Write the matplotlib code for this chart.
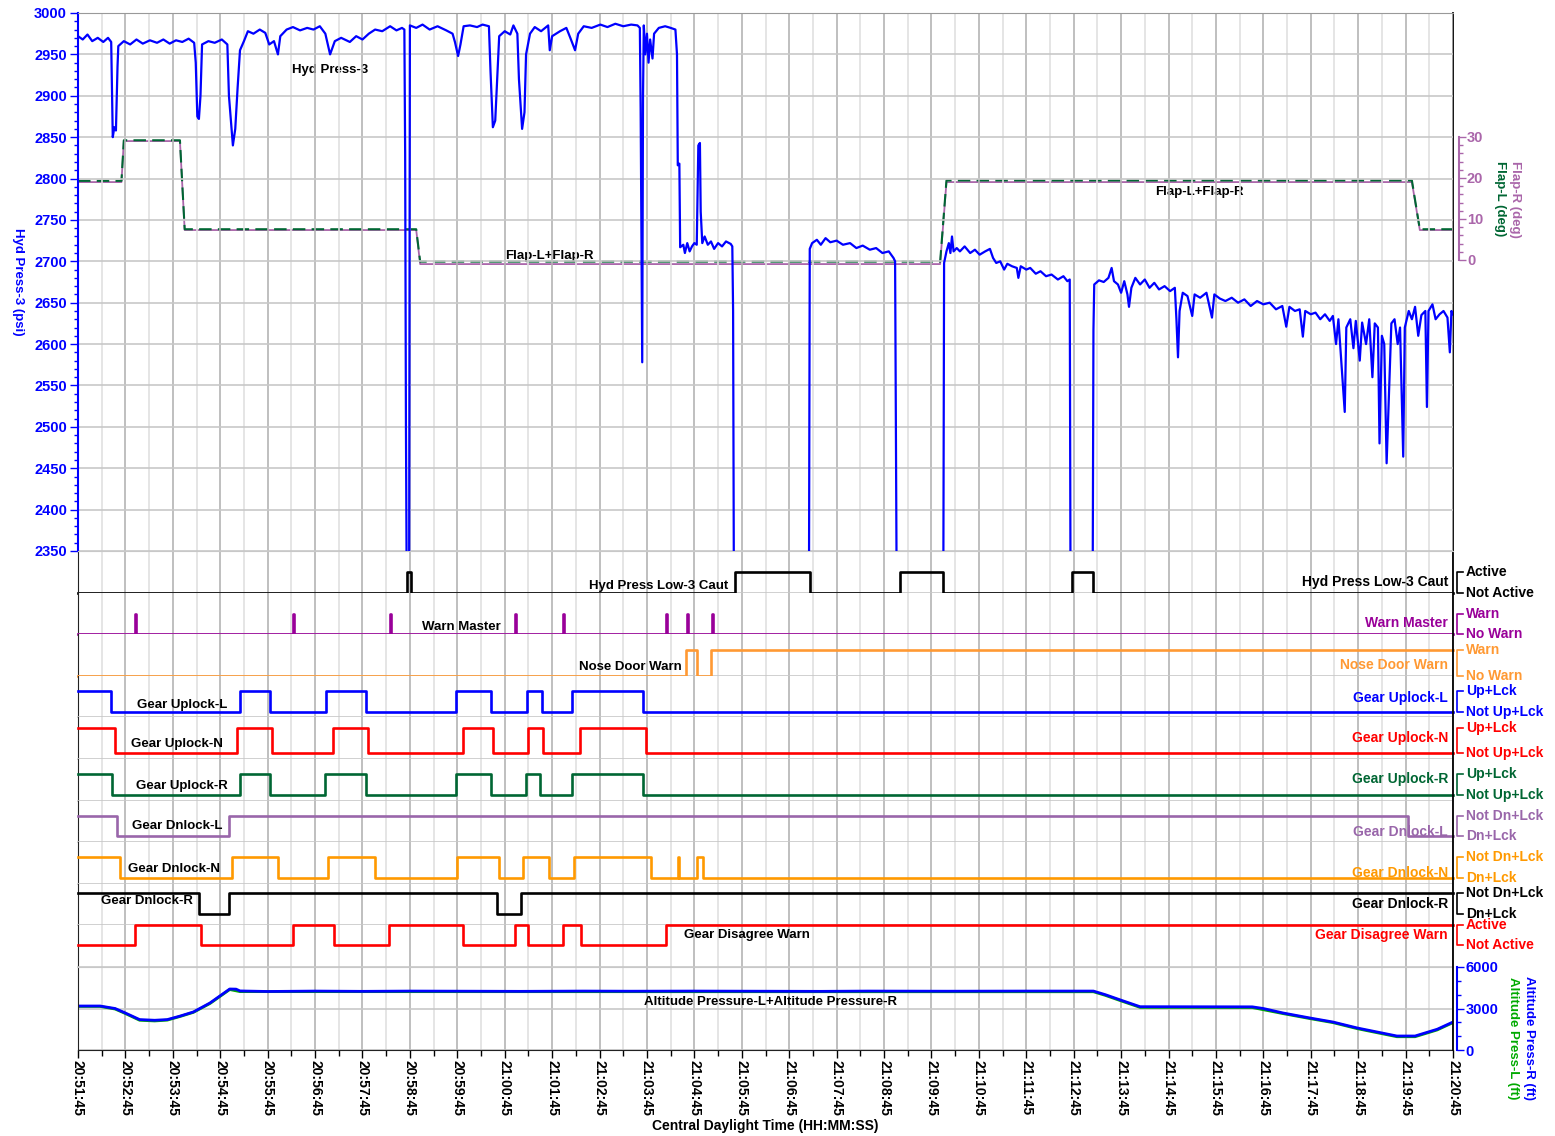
import numpy as np
import matplotlib
matplotlib.use("Agg")
import matplotlib.pyplot as plt
from matplotlib.ticker import MultipleLocator, FixedLocator, FuncFormatter

plt.rcParams['font.family'] = ['Liberation Sans', 'DejaVu Sans']
plt.rcParams['font.weight'] = 'bold'

W, H = 1555, 1136
T0 = 20 * 3600 + 51 * 60 + 45   # 20:51:45, x values are seconds after this
T_END = 1740

# Hyd Press-3 (psi): (seconds, psi); 2300 = off scale below 2350
hyd_press = [
    (0, 2972), (6, 2968), (12, 2974), (18, 2966), (25, 2970), (32, 2965), (38, 2970), (42, 2965),
    (44, 2850), (46, 2862), (48, 2858), (50, 2935), (51, 2960), (58, 2966), (66, 2962), (74, 2968),
    (82, 2963), (91, 2967), (100, 2964), (108, 2968), (116, 2963), (124, 2967), (132, 2965),
    (140, 2969), (147, 2964), (149, 2940), (151, 2875), (153, 2872), (155, 2900), (157, 2962),
    (165, 2966), (173, 2964), (182, 2968), (189, 2962), (191, 2900), (196, 2840), (199, 2860),
    (202, 2910), (205, 2955), (210, 2966), (215, 2978), (222, 2975), (230, 2980), (237, 2976),
    (242, 2962), (248, 2966), (253, 2950), (256, 2972), (264, 2980), (272, 2983), (281, 2979),
    (290, 2982), (298, 2980), (306, 2984), (313, 2975), (319, 2950), (325, 2966), (333, 2970),
    (344, 2965), (352, 2972), (360, 2968), (368, 2975), (376, 2980), (385, 2978), (395, 2984),
    (403, 2979), (410, 2982), (413, 2980), (414, 2830), (415, 2500), (416, 2300), (419, 2300),
    (420, 2985), (428, 2982), (436, 2986), (445, 2980), (455, 2984), (466, 2979), (474, 2975),
    (477, 2965), (481, 2948), (484, 2962), (488, 2984), (496, 2985), (505, 2983), (512, 2986),
    (520, 2984), (522, 2930), (525, 2862), (528, 2870), (531, 2930), (533, 2972), (540, 2978),
    (547, 2974), (551, 2985), (556, 2975), (558, 2920), (562, 2860), (565, 2880), (567, 2950),
    (572, 2975), (578, 2983), (586, 2978), (595, 2985), (597, 2955), (600, 2972), (610, 2978),
    (618, 2982), (623, 2970), (629, 2955), (633, 2975), (640, 2984), (650, 2982), (661, 2986),
    (670, 2983), (680, 2987), (690, 2984), (700, 2986), (708, 2985), (711, 2982), (712, 2885),
    (714, 2578), (715, 2900), (716, 2985), (718, 2950), (720, 2975), (722, 2940), (724, 2968),
    (727, 2945), (729, 2975), (735, 2982), (743, 2984), (750, 2982), (756, 2980), (758, 2950),
    (759, 2816), (761, 2818), (762, 2717), (766, 2720), (768, 2710), (771, 2722), (774, 2712),
    (777, 2718), (780, 2722), (783, 2720), (785, 2840), (787, 2843), (788, 2760), (790, 2722),
    (793, 2730), (797, 2720), (801, 2724), (805, 2715), (810, 2722), (815, 2718), (820, 2724),
    (826, 2721), (828, 2718), (829, 2640), (830, 2300), (925, 2300), (926, 2715), (929, 2722),
    (935, 2726), (940, 2720), (946, 2728), (952, 2723), (960, 2725), (968, 2720), (977, 2722),
    (985, 2716), (993, 2719), (1002, 2714), (1010, 2716), (1018, 2710), (1026, 2712), (1032, 2704),
    (1034, 2700), (1036, 2300), (1095, 2300), (1096, 2698), (1099, 2712), (1102, 2722), (1104, 2710),
    (1106, 2730), (1108, 2712), (1112, 2716), (1116, 2712), (1122, 2718), (1129, 2710), (1135, 2714),
    (1141, 2708), (1148, 2712), (1154, 2715), (1158, 2704), (1162, 2698), (1167, 2700), (1172, 2690),
    (1176, 2697), (1182, 2694), (1188, 2692), (1190, 2680), (1193, 2694), (1200, 2690), (1205, 2692),
    (1212, 2685), (1218, 2688), (1225, 2682), (1232, 2684), (1240, 2678), (1247, 2682), (1252, 2676),
    (1255, 2678), (1256, 2300), (1284, 2300), (1285, 2617), (1286, 2672), (1292, 2677), (1298, 2675),
    (1304, 2680), (1308, 2692), (1311, 2676), (1316, 2672), (1320, 2662), (1324, 2676), (1328, 2660),
    (1330, 2645), (1333, 2668), (1338, 2680), (1344, 2672), (1350, 2678), (1356, 2668), (1362, 2674),
    (1368, 2666), (1375, 2670), (1382, 2664), (1388, 2668), (1390, 2630), (1392, 2584), (1394, 2640),
    (1398, 2662), (1404, 2658), (1410, 2634), (1413, 2660), (1420, 2656), (1428, 2662), (1435, 2632),
    (1438, 2660), (1445, 2655), (1452, 2652), (1460, 2656), (1468, 2650), (1476, 2654), (1484, 2646),
    (1492, 2652), (1500, 2648), (1508, 2650), (1516, 2642), (1524, 2646), (1529, 2621), (1533, 2645),
    (1540, 2640), (1546, 2642), (1550, 2609), (1553, 2640), (1560, 2636), (1566, 2638), (1572, 2630),
    (1578, 2636), (1584, 2628), (1588, 2634), (1592, 2600), (1595, 2630), (1600, 2560), (1603, 2518),
    (1605, 2620), (1610, 2630), (1614, 2595), (1617, 2628), (1622, 2580), (1625, 2626), (1630, 2600),
    (1634, 2630), (1638, 2560), (1641, 2625), (1645, 2620), (1647, 2480), (1650, 2610), (1653, 2600),
    (1656, 2456), (1659, 2540), (1662, 2625), (1666, 2630), (1670, 2600), (1673, 2620), (1677, 2464),
    (1679, 2620), (1684, 2640), (1688, 2630), (1692, 2645), (1696, 2610), (1700, 2635), (1705, 2640),
    (1707, 2524), (1709, 2640), (1714, 2648), (1718, 2630), (1723, 2636), (1728, 2640), (1733, 2632),
    (1736, 2590), (1738, 2640), (1740, 2636),
]

# flap position (deg)
flap_l = [(0, 19.3), (55, 19.3), (58, 29.2), (129, 29.2), (135, 7.5), (428, 7.5), (433, -0.4),
          (1091, -0.4), (1099, 19.4), (1688, 19.4), (1698, 7.5), (1740, 7.5)]
flap_r = [(0, 19.0), (55, 19.0), (58, 29.0), (129, 29.0), (135, 7.3), (428, 7.3), (433, -1.0),
          (1091, -1.0), (1099, 19.0), (1688, 19.0), (1698, 7.3), (1740, 7.3)]

# altitude (ft)
alt_r = [(0, 3180), (28, 3180), (47, 3000), (59, 2700), (78, 2200), (97, 2150), (113, 2200),
         (129, 2450), (146, 2750), (167, 3400), (192, 4410), (200, 4400), (205, 4270), (240, 4230),
         (300, 4260), (360, 4240), (420, 4260), (500, 4250), (560, 4240), (640, 4260), (700, 4250),
         (780, 4260), (860, 4250), (940, 4240), (1000, 4260), (1100, 4250), (1200, 4260),
         (1285, 4260), (1300, 4000), (1320, 3600), (1344, 3130), (1486, 3120), (1500, 3000),
         (1525, 2675), (1559, 2314), (1588, 2024), (1619, 1590), (1669, 1012), (1692, 1012),
         (1720, 1500), (1740, 2024)]
alt_l = [(0, 3150), (28, 3150), (47, 2960), (59, 2660), (78, 2150), (97, 2100), (113, 2160),
         (129, 2420), (146, 2720), (167, 3360), (192, 4370), (205, 4220), (1285, 4210),
         (1300, 3950), (1320, 3550), (1344, 3080), (1486, 3070), (1525, 2630), (1559, 2270),
         (1588, 1980), (1619, 1540), (1669, 960), (1692, 960), (1720, 1450), (1740, 1980)]

# discrete channels: toggle times (s) and starting state (1 = upper state)
caut_edges = [416, 421, 831, 926, 1040, 1095, 1258, 1285]
warn_master_edges = [72, 73.2, 272, 273.2, 395, 396.2, 553, 554.2, 614, 615.2,
                     744, 745.2, 771, 772.2, 802, 803.2]
nose_door_edges = [769, 783, 801]
uplock_l_edges = [42, 205, 243, 314, 364, 478, 523, 568, 587, 625, 715]
uplock_n_edges = [47, 201, 246, 323, 367, 487, 525, 570, 588, 635, 719]
uplock_r_edges = [43, 205, 243, 313, 364, 478, 523, 567, 585, 625, 715]
dnlock_l_edges = [49, 191, 1683]
dnlock_n_edges = [53, 195, 253, 316, 376, 480, 533, 563, 596, 628, 725, 759, 760.5, 783, 791]
dnlock_r_edges = [153, 191, 530, 561]
disagree_edges = [72, 156, 272, 324, 394, 487, 553, 570, 614, 637, 744]

blue = '#0000ff'
red = '#ff0000'
dgreen = '#006633'

# name, edges, start, color, (upper, lower) labels, (upper, lower) y px, inline label (x, y), right label y
channels = [
    ("Hyd Press Low-3 Caut", caut_edges, 0, 'black', ("Active", "Not Active"), (572, 593), (659, 586), 582),
    ("Warn Master", warn_master_edges, 0, '#990099', ("Warn", "No Warn"), (614, 634), (461, 627), 623),
    ("Nose Door Warn", nose_door_edges, 0, '#ff9933', ("Warn", "No Warn"), (650, 676), (630, 667), 665),
    ("Gear Uplock-L", uplock_l_edges, 1, blue, ("Up+Lck", "Not Up+Lck"), (691, 712), (182, 705), 698),
    ("Gear Uplock-N", uplock_n_edges, 1, red, ("Up+Lck", "Not Up+Lck"), (728, 753), (177, 744), 738),
    ("Gear Uplock-R", uplock_r_edges, 1, dgreen, ("Up+Lck", "Not Up+Lck"), (774, 795), (182, 786), 779),
    ("Gear Dnlock-L", dnlock_l_edges, 1, '#9966aa', ("Not Dn+Lck", "Dn+Lck"), (816, 836), (177, 826), 832),
    ("Gear Dnlock-N", dnlock_n_edges, 1, '#ff9900', ("Not Dn+Lck", "Dn+Lck"), (857, 878), (174, 869), 873),
    ("Gear Dnlock-R", dnlock_r_edges, 1, 'black', ("Not Dn+Lck", "Dn+Lck"), (893, 914), (147, 901), 904),
    ("Gear Disagree Warn", disagree_edges, 0, red, ("Active", "Not Active"), (925, 945), (747, 935), 935),
]

fig = plt.figure(figsize=(W / 100, H / 100), dpi=100)


def px_axes(top, bottom):
    return fig.add_axes([78 / W, 1 - bottom / H, 1375 / W, (bottom - top) / H])


def time_grid(ax):
    ax.set_xlim(0, T_END)
    ax.xaxis.set_major_locator(MultipleLocator(60))
    ax.xaxis.set_minor_locator(MultipleLocator(30))
    ax.grid(True, which='major', axis='x', color='#b4b4b4', lw=1.2)
    ax.grid(True, which='minor', axis='x', color='#e0e0e0', lw=1.2)
    ax.set_axisbelow(True)
    ax.tick_params(axis='x', which='both', length=0, labelbottom=False)


def steps(edges, start):
    xs, ys = [0], [start]
    v = start
    for t in edges:
        xs += [t, t]
        ys += [v, 1 - v]
        v = 1 - v
    xs.append(T_END)
    ys.append(v)
    return xs, ys


# ---- pressure panel
ax_p = px_axes(13, 551)
time_grid(ax_p)
ax_p.set_ylim(2350, 3000)
ax_p.yaxis.set_major_locator(MultipleLocator(50))
ax_p.yaxis.set_minor_locator(MultipleLocator(10))
ax_p.grid(True, which='major', axis='y', color='#c8c8c8', lw=1.2)
ax_p.tick_params(axis='y', which='major', colors=blue, length=6, width=1, labelsize=10.5, pad=2)
ax_p.tick_params(axis='y', which='minor', colors=blue, length=3, width=1)
for lab in ax_p.get_yticklabels():
    lab.set_fontweight('bold')
ax_p.spines['left'].set_color(blue)
ax_p.spines['left'].set_linewidth(1.5)
ax_p.spines['top'].set_color('#999999')
ax_p.spines['right'].set_visible(False)
ax_p.spines['bottom'].set_color('#c8c8c8')
hp = np.array(hyd_press)
ax_p.plot(hp[:, 0], hp[:, 1], color=blue, lw=1.6, zorder=3)

ax_f = ax_p.twinx()
ax_f.set_xlim(0, T_END)
ax_f.set_ylim(-70.98, 60.24)
for s in ('left', 'top', 'bottom'):
    ax_f.spines[s].set_visible(False)
ax_f.spines['right'].set_bounds(0, 30)
ax_f.spines['right'].set_position(('outward', 4))
ax_f.spines['right'].set_color('#aa66aa')
ax_f.spines['right'].set_linewidth(1.5)
ax_f.yaxis.set_major_locator(FixedLocator([0, 10, 20, 30]))
ax_f.yaxis.set_minor_locator(FixedLocator(list(range(0, 31, 2))))
ax_f.tick_params(axis='y', which='major', colors='#aa66aa', length=5, width=1, labelsize=10.5, pad=1)
ax_f.tick_params(axis='y', which='minor', colors='#aa66aa', length=3, width=1)
for lab in ax_f.get_yticklabels():
    lab.set_fontweight('bold')
fr = np.array(flap_r)
fl = np.array(flap_l)
ax_f.plot(fr[:, 0], fr[:, 1], color='#aa66aa', lw=1.3)
ax_f.plot(fl[:, 0], fl[:, 1], color=dgreen, lw=1.5, dashes=(6, 3))
ax_p.set_zorder(ax_f.get_zorder() + 1)
ax_p.patch.set_visible(False)

# ---- discrete channels
ch_h = (967 - 551) / len(channels)
for i, (name, edges, start, col, states, (hpx, lpx), _, _) in enumerate(channels):
    top = 551 + i * ch_h
    bot = top + ch_h
    ax = px_axes(top, bot)
    time_grid(ax)
    ax.set_ylim((lpx - bot) / (lpx - hpx), (lpx - top) / (lpx - hpx))
    ax.set_yticks([])
    ax.spines['top'].set_visible(False)
    ax.spines['right'].set_visible(False)
    ax.spines['bottom'].set_color('#c8c8c8')
    ax.spines['bottom'].set_linewidth(1.2)
    ax.spines['left'].set_color('#222222')
    xs, ys = steps(edges, start)
    ax.plot(xs, ys, color=col, lw=1.9, clip_on=False, zorder=3)

# ---- altitude panel
ax_a = px_axes(967, 1050)
time_grid(ax_a)
ax_a.set_ylim(0, 6000)
ax_a.yaxis.tick_right()
ax_a.yaxis.set_major_locator(FixedLocator([0, 3000, 6000]))
ax_a.yaxis.set_minor_locator(MultipleLocator(1000))
ax_a.grid(True, which='major', axis='y', color='#c8c8c8', lw=1.2)
ax_a.tick_params(axis='y', which='major', colors=blue, length=5, width=1, labelsize=10.5, pad=1)
ax_a.tick_params(axis='y', which='minor', colors=blue, length=3, width=1)
for lab in ax_a.get_yticklabels():
    lab.set_fontweight('bold')
ax_a.spines['right'].set_position(('outward', 3))
ax_a.spines['right'].set_color(blue)
ax_a.spines['right'].set_linewidth(1.5)
ax_a.spines['top'].set_color('#c8c8c8')
ax_a.spines['left'].set_color('#222222')
ax_a.spines['bottom'].set_color('#222222')
ax_a.tick_params(axis='x', which='major', length=6, width=1, labelbottom=True,
                 labelsize=10, pad=1, colors='black')
ax_a.tick_params(axis='x', which='minor', length=4, width=1)
ax_a.xaxis.set_major_formatter(FuncFormatter(
    lambda v, p: "%02d:%02d:%02d" % (((T0 + v) // 3600) % 24, ((T0 + v) // 60) % 60, (T0 + v) % 60)))
for lab in ax_a.get_xticklabels():
    lab.set_rotation(270)
    lab.set_fontweight('bold')
    lab.set_va('top')
    lab.set_ha('center')
al = np.array(alt_l)
ar = np.array(alt_r)
ax_a.plot(al[:, 0], al[:, 1], color='#00aa00', lw=2)
ax_a.plot(ar[:, 0], ar[:, 1], color=blue, lw=2)

# ---- overlay for labels, brackets, borders (pixel coordinates)
ov = fig.add_axes([0, 0, 1, 1])
ov.set_xlim(0, W)
ov.set_ylim(H, 0)
ov.axis('off')
ov.patch.set_visible(False)
ov.plot([1453, 1453], [13, 1050], color='black', lw=1.3)

fs = 9.5
ov.text(330, 70, "Hyd Press-3", ha='center', va='center', fontsize=fs)
ov.text(549, 256, "Flap-L+Flap-R", ha='center', va='center', fontsize=fs)
ov.text(1199, 192, "Flap-L+Flap-R", ha='center', va='center', fontsize=fs)
ov.text(770, 1002, "Altitude Pressure-L+Altitude Pressure-R", ha='center', va='center', fontsize=fs)

for name, edges, start, col, states, (hpx, lpx), (lx, ly), ry in channels:
    ov.text(lx, ly, name, ha='center', va='center', fontsize=fs, color='black')
    ov.text(1448, ry, name, ha='right', va='center', fontsize=10, color=col)
    ov.plot([1463, 1457, 1457, 1463], [hpx, hpx, lpx, lpx], color=col, lw=1.2)
    ov.text(1466, hpx, states[0], ha='left', va='center', fontsize=10, color=col)
    ov.text(1466, lpx, states[1], ha='left', va='center', fontsize=10, color=col)

fig.text(18 / W, 1 - 282 / H, "Hyd Press-3 (psi)", rotation=270, ha='center', va='center',
         fontsize=9.5, color=blue)
fig.text(1515 / W, 1 - 199 / H, "Flap-R (deg)", rotation=270, ha='center', va='center',
         fontsize=9.5, color='#aa66aa')
fig.text(1500 / W, 1 - 199 / H, "Flap-L (deg)", rotation=270, ha='center', va='center',
         fontsize=9.5, color=dgreen)
fig.text(1529 / W, 1 - 1038 / H, "Altitude Press-R (ft)", rotation=270, ha='center', va='center',
         fontsize=9.5, color=blue)
fig.text(1513 / W, 1 - 1038 / H, "Altitude Press-L (ft)", rotation=270, ha='center', va='center',
         fontsize=9.5, color='#00aa00')
fig.text(765 / W, 1 - 1126 / H, "Central Daylight Time (HH:MM:SS)", ha='center', va='center',
         fontsize=10)

fig.savefig("out.png", dpi=100, facecolor='white')
